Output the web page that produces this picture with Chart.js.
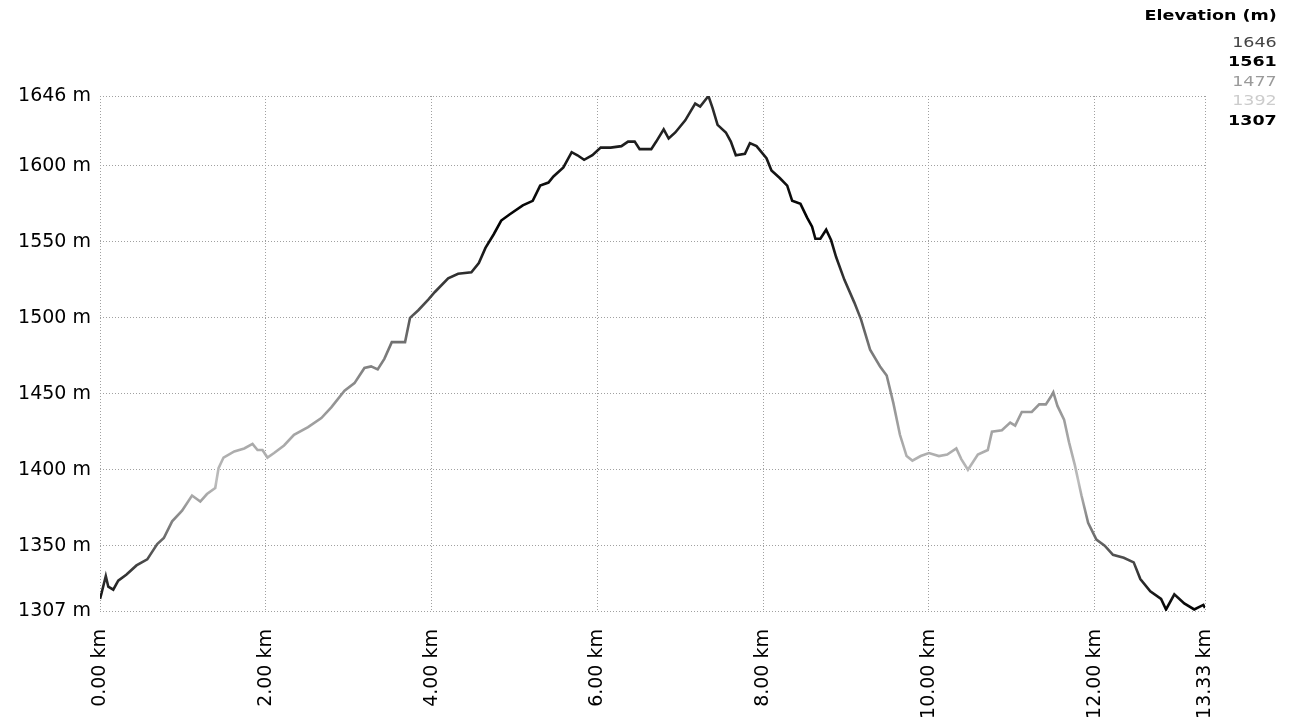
<!DOCTYPE html>
<html>
<head>
<meta charset="utf-8">
<script src="https://cdn.jsdelivr.net/npm/chart.js@4/dist/chart.umd.min.js"></script>
<style>
  html, body { margin: 0; padding: 0; background: #fff; }
  #wrap { position: relative; width: 1293px; height: 728px; }
  #legend {
    position: absolute; right: 16px; top: 6px;
    font-family: "DejaVu Sans", sans-serif; font-size: 14px;
    text-align: right; line-height: 19.5px;
    transform: scaleX(1.25); transform-origin: right top;
  }
  #legend .title { font-weight: bold; color: #000; margin-bottom: 7px; }
</style>
</head>
<body>
<div id="wrap">
  <canvas id="elevChart" width="1293" height="728"></canvas>
  <div id="legend"></div>
</div>
<script>
// elevation profile
const distKm = [
  0.00, 0.02, 0.07, 0.10, 0.16, 0.22, 0.32, 0.44, 0.57, 0.69,
  0.77, 0.87, 0.99, 1.11, 1.21, 1.29, 1.39, 1.43, 1.49, 1.62,
  1.74, 1.84, 1.90, 1.96, 2.02, 2.10, 2.22, 2.34, 2.51, 2.67,
  2.79, 2.95, 3.07, 3.19, 3.27, 3.35, 3.43, 3.52, 3.68, 3.74,
  3.84, 3.96, 4.04, 4.20, 4.32, 4.48, 4.57, 4.65, 4.75, 4.84,
  4.94, 5.10, 5.22, 5.31, 5.41, 5.47, 5.59, 5.69, 5.76, 5.84,
  5.94, 6.04, 6.16, 6.29, 6.37, 6.45, 6.51, 6.65, 6.71, 6.80,
  6.86, 6.94, 7.06, 7.18, 7.24, 7.34, 7.39, 7.45, 7.55, 7.61,
  7.67, 7.78, 7.84, 7.92, 8.04, 8.10, 8.20, 8.29, 8.35, 8.45,
  8.53, 8.59, 8.63, 8.69, 8.76, 8.82, 8.88, 8.98, 9.10, 9.18,
  9.29, 9.41, 9.49, 9.57, 9.65, 9.73, 9.80, 9.90, 10.00, 10.12,
  10.22, 10.33, 10.39, 10.47, 10.59, 10.71, 10.76, 10.88, 10.98, 11.04,
  11.12, 11.24, 11.33, 11.41, 11.47, 11.50, 11.55, 11.63, 11.69, 11.76,
  11.84, 11.92, 12.02, 12.12, 12.22, 12.35, 12.47, 12.55, 12.67, 12.80,
  12.86, 12.96, 13.08, 13.20, 13.31, 13.33
];
const elevM = [
  1315, 1319, 1330, 1323, 1321, 1327, 1331, 1337, 1341, 1351,
  1355, 1366, 1373, 1383, 1379, 1384, 1388, 1401, 1408, 1412,
  1414, 1417, 1413, 1413, 1408, 1411, 1416, 1423, 1428, 1434,
  1441, 1452, 1457, 1467, 1468, 1466, 1473, 1484, 1484, 1500,
  1505, 1512, 1517, 1526, 1529, 1530, 1536, 1546, 1555, 1564,
  1568, 1574, 1577, 1587, 1589, 1593, 1599, 1609, 1607, 1604,
  1607, 1612, 1612, 1613, 1616, 1616, 1611, 1611, 1616, 1624,
  1618, 1622, 1630, 1641, 1639, 1646, 1638, 1627, 1622, 1616,
  1607, 1608, 1615, 1613, 1605, 1597, 1592, 1587, 1577, 1575,
  1566, 1560, 1552, 1552, 1558, 1551, 1540, 1525, 1510, 1499,
  1479, 1468, 1462, 1444, 1423, 1409, 1406, 1409, 1411, 1409,
  1410, 1414, 1407, 1400, 1410, 1413, 1425, 1426, 1431, 1429,
  1438, 1438, 1443, 1443, 1448, 1451, 1442, 1433, 1418, 1403,
  1383, 1365, 1354, 1350, 1344, 1342, 1339, 1328, 1320, 1315,
  1308, 1318, 1312, 1308, 1311, 1309
];

const xTicks = [0, 2, 4, 6, 8, 10, 12, 13.33];
const yTicks = [1307, 1350, 1400, 1450, 1500, 1550, 1600, 1646];

// colour scale: elevation -> grey level
const legendValues = [1646, 1561, 1477, 1392, 1307];
const legendColors = ['#303030', '#000000', '#7a7a7a', '#bdbdbd', '#000000'];
const legendTextColors = ['#444444', '#000000', '#9a9a9a', '#cccccc', '#000000'];

const yMin = 1307, yMax = 1646;

// legend in the top right corner
const legend = document.getElementById('legend');
legend.innerHTML = '<div class="title">Elevation (m)</div>' +
  legendValues.map((v, i) => {
    const bold = legendTextColors[i] === '#000000' ? 'font-weight:bold;' : '';
    return `<div style="color:${legendTextColors[i]};${bold}">${v}</div>`;
  }).join('');

function lineGradient(context) {
  const chart = context.chart;
  if (!chart.chartArea) return '#000';
  const y = chart.scales.y;
  const g = chart.ctx.createLinearGradient(0, y.getPixelForValue(yMin), 0, y.getPixelForValue(yMax));
  legendValues.forEach((v, i) => {
    g.addColorStop((v - yMin) / (yMax - yMin), legendColors[i]);
  });
  return g;
}

const gridStyle = { color: '#a0a0a0', lineWidth: 1, drawTicks: false };
const borderStyle = { display: false, dash: [1, 2] };

const ctx = document.getElementById('elevChart').getContext('2d');
new Chart(ctx, {
  type: 'line',
  data: {
    datasets: [{
      label: 'Elevation',
      data: distKm.map((d, i) => ({ x: d, y: elevM[i] })),
      borderColor: lineGradient,
      borderWidth: 2.6,
      pointRadius: 0,
      tension: 0,
      fill: false
    }]
  },
  options: {
    responsive: false,
    animation: false,
    layout: { padding: { top: 96, right: 88, bottom: 0, left: 0 } },
    plugins: { legend: { display: false }, tooltip: { enabled: false } },
    scales: {
      x: {
        type: 'linear',
        min: 0,
        max: 13.33,
        grid: gridStyle,
        border: borderStyle,
        afterBuildTicks: axis => { axis.ticks = xTicks.map(v => ({ value: v })); },
        afterFit: axis => { axis.height = 117; },
        ticks: {
          minRotation: 90,
          maxRotation: 90,
          padding: 18,
          color: '#000',
          font: { family: 'DejaVu Sans', size: 19 },
          callback: v => v.toFixed(2) + ' km'
        }
      },
      y: {
        type: 'linear',
        min: yMin,
        max: yMax,
        grid: gridStyle,
        border: borderStyle,
        afterBuildTicks: axis => { axis.ticks = yTicks.map(v => ({ value: v })); },
        afterFit: axis => { axis.width = 100; },
        ticks: {
          padding: 9,
          color: '#000',
          font: { family: 'DejaVu Sans', size: 19 },
          callback: v => v + ' m'
        }
      }
    }
  }
});
</script>
</body>
</html>
